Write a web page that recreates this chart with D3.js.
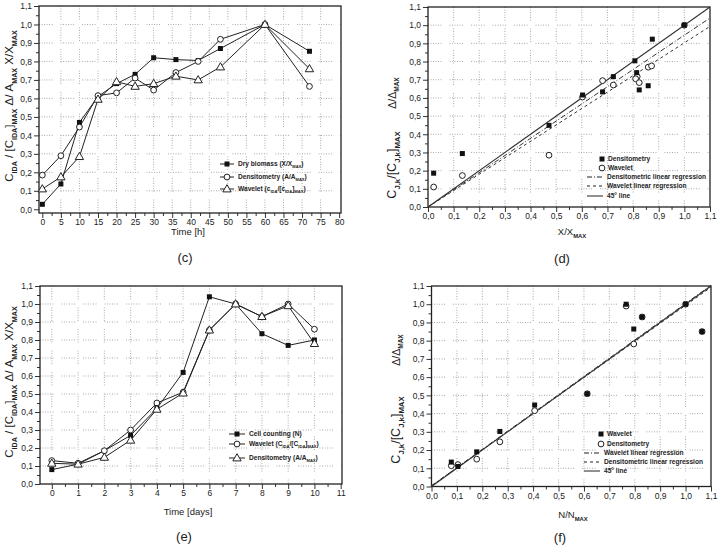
<!DOCTYPE html>
<html>
<head>
<meta charset="utf-8">
<script src="https://cdn.jsdelivr.net/npm/d3@7"></script>
<style>
  body { margin: 0; background: #fff; }
  svg { display: block; }
  text { font-family: "Liberation Sans", Arial, sans-serif; fill: #222; }
</style>
</head>
<body>
<div id="chart"></div>
<script>
// ---- panel (c): time course in hours
const hoursC = [0, 5, 10, 15, 20, 25, 30, 36, 42, 48, 60, 72];
const dryBiomassC = [0.027, 0.137, 0.47, 0.61, 0.68, 0.73, 0.82, 0.81, 0.805, 0.87, 1.0, 0.855];
const densitometryC = [0.185, 0.29, 0.445, 0.615, 0.63, 0.71, 0.645, 0.74, 0.80, 0.92, 1.0, 0.665];
const waveletC = [0.11, 0.175, 0.285, 0.595, 0.69, 0.665, 0.68, 0.72, 0.70, 0.77, 1.0, 0.76];

// ---- panel (d): densitometry / wavelet vs X/Xmax
const dDensX = [0.022, 0.134, 0.472, 0.603, 0.681, 0.723, 0.807, 0.814, 0.824, 0.859, 0.875, 1.0];
const dDensY = [0.186, 0.294, 0.449, 0.616, 0.633, 0.717, 0.804, 0.739, 0.644, 0.667, 0.923, 1.0];
const dWaveX = [0.022, 0.134, 0.472, 0.603, 0.681, 0.723, 0.816, 0.81, 0.824, 0.859, 0.872, 1.0];
const dWaveY = [0.11, 0.173, 0.285, 0.605, 0.695, 0.671, 0.717, 0.705, 0.684, 0.769, 0.776, 1.0];
const dFitDens = [0.945, 0.0];   // slope, intercept
const dFitWave = [0.903, 0.0];

// ---- panel (e): time course in days
const daysE = [0, 1, 2, 3, 4, 5, 6, 7, 8, 9, 10];
const cellCountE = [0.08, 0.11, 0.185, 0.27, 0.42, 0.62, 1.04, 1.0, 0.835, 0.77, 0.80];
const waveletE = [0.13, 0.115, 0.185, 0.30, 0.45, 0.51, 0.855, 1.0, 0.93, 1.0, 0.86];
const densitometryE = [0.115, 0.11, 0.148, 0.243, 0.415, 0.505, 0.855, 1.0, 0.93, 0.99, 0.78];

// ---- panel (f): wavelet / densitometry vs N/Nmax
const fX = [0.078, 0.104, 0.178, 0.269, 0.406, 0.613, 1.065, 1.0, 0.829, 0.766, 0.796];
const fWaveY = [0.134, 0.11, 0.19, 0.302, 0.447, 0.509, 0.85, 1.0, 0.93, 1.0, 0.864];
const fDensY = [0.114, 0.12, 0.15, 0.245, 0.416, 0.509, 0.85, 1.0, 0.93, 0.99, 0.782];
const fFitWave = [1.0, 0.004];
const fFitDens = [0.99, 0.004];

const W = 718, H = 549;
const svg = d3.select("#chart").append("svg").attr("width", W).attr("height", H);

const comma = d => d.toFixed(1).replace(".", ",");
const tenths = d3.range(0, 12).map(i => i / 10);
const halfTenths = d3.range(0, 11).map(i => i / 10 + 0.05);
const gridDash = "1,1.5,1,1.5,1,1.5,1,1.5,1,1.5,1,8";

// text with sub/superscript pieces
function rich(t, parts, fs) {
  let shift = 0;
  parts.forEach(([s, kind]) => {
    const target = kind === "sub" ? fs * 0.32 : kind === "sup" ? -fs * 0.4 : 0;
    t.append("tspan")
      .attr("dy", target - shift)
      .attr("font-size", kind ? fs * 0.62 : fs)
      .attr("font-weight", kind === "sub" ? "bold" : null)
      .text(s);
    shift = target;
  });
  return t;
}

function panel(o) {
  const x = d3.scaleLinear().domain(o.xDomain).range([o.left, o.right]);
  const y = d3.scaleLinear().domain(o.yDomain).range([o.bottom, o.top]);
  const g = svg.append("g");

  // dotted grid
  g.append("g").selectAll("line").data(o.xGrid).join("line")
    .attr("x1", d => x(d)).attr("x2", d => x(d))
    .attr("y1", o.top).attr("y2", o.bottom)
    .attr("stroke", "#aaa").attr("stroke-dasharray", gridDash);
  g.append("g").selectAll("line").data(o.yGrid).join("line")
    .attr("y1", d => y(d)).attr("y2", d => y(d))
    .attr("x1", o.left).attr("x2", o.right)
    .attr("stroke", "#aaa").attr("stroke-dasharray", gridDash);

  const styleAxis = a => {
    a.select(".domain").remove();
    a.selectAll("line").attr("stroke", "#333");
    a.selectAll("text").attr("font-size", 8.5).attr("fill", "#333")
      .attr("font-family", "'Liberation Sans', Arial, sans-serif");
  };
  g.append("g").attr("transform", `translate(0,${o.bottom})`)
    .call(d3.axisBottom(x).tickValues(o.xMinor).tickSize(3).tickFormat(""))
    .call(styleAxis);
  g.append("g").attr("transform", `translate(0,${o.bottom})`)
    .call(d3.axisBottom(x).tickValues(o.xTicks).tickSize(5).tickPadding(1).tickFormat(o.xFmt))
    .call(styleAxis);
  g.append("g").attr("transform", `translate(${o.left},0)`)
    .call(d3.axisLeft(y).tickValues(halfTenths).tickSize(3).tickFormat(""))
    .call(styleAxis);
  g.append("g").attr("transform", `translate(${o.left},0)`)
    .call(d3.axisLeft(y).tickValues(tenths).tickSize(5).tickPadding(2).tickFormat(comma))
    .call(styleAxis);

  g.append("rect")
    .attr("x", o.left).attr("y", o.top)
    .attr("width", o.right - o.left).attr("height", o.bottom - o.top)
    .attr("fill", "none").attr("stroke", "#222").attr("stroke-width", 1.3);

  return { g, x, y };
}

// markers
function square(g, cx, cy) {
  g.append("rect").attr("x", cx - 2.5).attr("y", cy - 2.5).attr("width", 5).attr("height", 5).attr("fill", "#111");
}
function circle(g, cx, cy) {
  g.append("circle").attr("cx", cx).attr("cy", cy).attr("r", 2.9).attr("fill", "#fff").attr("stroke", "#222").attr("stroke-width", 1);
}
function triangle(g, cx, cy) {
  g.append("path").attr("transform", `translate(${cx},${cy + 0.5})`)
    .attr("d", d3.symbol(d3.symbolTriangle, 30)())
    .attr("fill", "#fff").attr("stroke", "#222").attr("stroke-width", 1);
}

function series(p, xs, ys) {
  const line = d3.line().x(d => p.x(d[0])).y(d => p.y(d[1]));
  p.g.append("path").datum(d3.zip(xs, ys)).attr("d", line)
    .attr("fill", "none").attr("stroke", "#222").attr("stroke-width", 1);
}
function points(p, xs, ys, marker) {
  d3.zip(xs, ys).forEach(([a, b]) => marker(p.g, p.x(a), p.y(b)));
}

function fitLine(p, fit, x0, x1, dash, width) {
  p.g.append("line")
    .attr("x1", p.x(x0)).attr("y1", p.y(fit[0] * x0 + fit[1]))
    .attr("x2", p.x(x1)).attr("y2", p.y(fit[0] * x1 + fit[1]))
    .attr("stroke", "#333").attr("stroke-width", width || 1)
    .attr("stroke-dasharray", dash);
}

function legendRow(x, y, marker, parts, lineLen, dash) {
  const g = svg.append("g");
  if (lineLen) {
    g.append("line").attr("x1", x - lineLen / 2).attr("x2", x + lineLen / 2)
      .attr("y1", y).attr("y2", y).attr("stroke", "#222").attr("stroke-width", 1)
      .attr("stroke-dasharray", dash);
  }
  if (marker) marker(g, x, y);
  const t = g.append("text").attr("x", x + (lineLen ? lineLen / 2 + 4 : 6)).attr("y", y + 2.3)
    .attr("font-size", 6.6).attr("font-weight", "bold").attr("fill", "#333");
  rich(t, parts, 6.6);
}

function yLabel(x, y, parts, fs) {
  const t = svg.append("text").attr("transform", `translate(${x},${y}) rotate(-90)`)
    .attr("text-anchor", "middle").attr("fill", "#333");
  rich(t, parts, fs);
}
function xLabel(x, y, parts, fs) {
  const t = svg.append("text").attr("x", x).attr("y", y).attr("text-anchor", "middle").attr("fill", "#333");
  rich(t, parts, fs);
}
function caption(x, y, s) {
  svg.append("text").attr("x", x).attr("y", y).attr("text-anchor", "middle")
    .attr("font-family", "'Liberation Serif', 'Times New Roman', serif")
    .attr("font-size", 13).attr("fill", "#111").text(s);
}

// ================= (c)
const pc = panel({
  left: 39, right: 341, top: 6, bottom: 213,
  xDomain: [-0.9, 80.5], yDomain: [-0.02, 1.1],
  xTicks: d3.range(0, 81, 5), xMinor: d3.range(2.5, 80, 5), xFmt: d3.format("d"),
  xGrid: d3.range(5, 80, 5), yGrid: d3.range(1, 11).map(i => i / 10)
});
series(pc, hoursC, dryBiomassC);
series(pc, hoursC, densitometryC);
series(pc, hoursC, waveletC);
points(pc, hoursC, dryBiomassC, square);
points(pc, hoursC, densitometryC, circle);
points(pc, hoursC, waveletC, triangle);
legendRow(227, 164, square, [["Dry biomass (X/X", ""], ["MAX", "sub"], [")", ""]], 14);
legendRow(227, 177, circle, [["Densitometry (A/A", ""], ["MAX", "sub"], [")", ""]], 14);
legendRow(227, 189, triangle, [["Wavelet (c", ""], ["IDA", "sub"], ["/[c", ""], ["IDA", "sub"], ["]", ""], ["MAX", "sub"], [")", ""]], 14);
yLabel(13, 106, [["C", ""], ["IDA", "sub"], [" / [C", ""], ["IDA", "sub"], ["]", ""], ["MAX", "sub"],
  ["    Δ/ A", ""], ["MAX", "sub"], ["    X/X", ""], ["MAX", "sub"]], 11.5);
xLabel(188, 235, [["Time [h]", ""]], 9.5);
caption(185, 262, "(c)");

// ================= (d)
const pd = panel({
  left: 428, right: 710, top: 7, bottom: 207,
  xDomain: [0, 1.1], yDomain: [0, 1.1],
  xTicks: tenths, xMinor: halfTenths, xFmt: comma,
  xGrid: d3.range(1, 11).map(i => i / 10), yGrid: d3.range(1, 11).map(i => i / 10)
});
fitLine(pd, [1, 0], 0, 1.1, null, 1.1);
fitLine(pd, dFitDens, 0, 1.1, "5,2,1,2");
fitLine(pd, dFitWave, 0, 1.1, "3,3");
points(pd, dWaveX, dWaveY, circle);
points(pd, dDensX, dDensY, square);
legendRow(602, 159, square, [["Densitometry", ""]], 0);
legendRow(602, 168, circle, [["Wavelet", ""]], 0);
legendRow(595, 177, null, [["Densitometric linear regression", ""]], 16, "5,2,1,2");
legendRow(595, 186, null, [["Wavelet linear regression", ""]], 16, "3,3");
legendRow(595, 196, null, [["45° line", ""]], 16);
yLabel(396, 93, [["Δ/Δ", ""], ["MAX", "sub"]], 10.5);
yLabel(396, 165, [["C", ""], ["J,k", "sub"], ["/[C", ""], ["J,k", "sub"], ["]", ""], ["MAX", "sub"]], 12.5);
xLabel(572, 235, [["X/X", ""], ["MAX", "sub"]], 9.5);
caption(562, 263, "(d)");

// ================= (e)
const pe = panel({
  left: 40, right: 342, top: 286, bottom: 484,
  xDomain: [-0.45, 11.05], yDomain: [0, 1.1],
  xTicks: d3.range(0, 12), xMinor: d3.range(0.5, 11, 1), xFmt: d3.format("d"),
  xGrid: d3.range(0, 11), yGrid: d3.range(1, 11).map(i => i / 10)
});
series(pe, daysE, cellCountE);
series(pe, daysE, waveletE);
series(pe, daysE, densitometryE);
points(pe, daysE, cellCountE, square);
points(pe, daysE, waveletE, circle);
points(pe, daysE, densitometryE, triangle);
legendRow(237, 434, square, [["Cell counting (N)", ""]], 16);
legendRow(237, 444, circle, [["Wavelet (C", ""], ["IDA", "sub"], ["/[C", ""], ["IDA", "sub"], ["]", ""], ["MAX", "sub"], [")", ""]], 16);
legendRow(237, 458, triangle, [["Densitometry (A/A", ""], ["MAX", "sub"], [")", ""]], 16);
yLabel(13, 382, [["C", ""], ["IDA", "sub"], [" / [C", ""], ["IDA", "sub"], ["]", ""], ["MAX", "sub"],
  ["    Δ/ A", ""], ["MAX", "sub"], ["    X/X", ""], ["MAX", "sub"]], 11.5);
xLabel(188, 515, [["Time [days]", ""]], 9.5);
caption(184, 541, "(e)");

// ================= (f)
const pf = panel({
  left: 431.5, right: 711, top: 286, bottom: 486.5,
  xDomain: [0, 1.1], yDomain: [0, 1.1],
  xTicks: tenths, xMinor: halfTenths, xFmt: comma,
  xGrid: d3.range(1, 11).map(i => i / 10), yGrid: d3.range(1, 11).map(i => i / 10)
});
fitLine(pf, [1, 0], 0, 1.1, null, 1.1);
fitLine(pf, fFitWave, 0, 1.1, "5,2,1,2");
fitLine(pf, fFitDens, 0, 1.1, "3,3");
points(pf, fX, fDensY, circle);
points(pf, fX, fWaveY, square);
legendRow(601, 434, square, [["Wavelet", ""]], 0);
legendRow(601, 444, circle, [["Densitometry", ""]], 0);
legendRow(592, 453, null, [["Wavelet linear regression", ""]], 16, "5,2,1,2");
legendRow(592, 462, null, [["Densitometric linear regression", ""]], 16, "3,3");
legendRow(592, 471, null, [["45° line", ""]], 16);
yLabel(400, 350, [["Δ/Δ", ""], ["MAX", "sub"]], 10.5);
yLabel(400, 430, [["C", ""], ["J,k", "sub"], ["/[C", ""], ["J,k", "sub"], ["]", ""], ["MAX", "sub"]], 12.5);
xLabel(573, 518, [["N/N", ""], ["MAX", "sub"]], 9.5);
caption(560, 542, "(f)");
</script>
</body>
</html>
